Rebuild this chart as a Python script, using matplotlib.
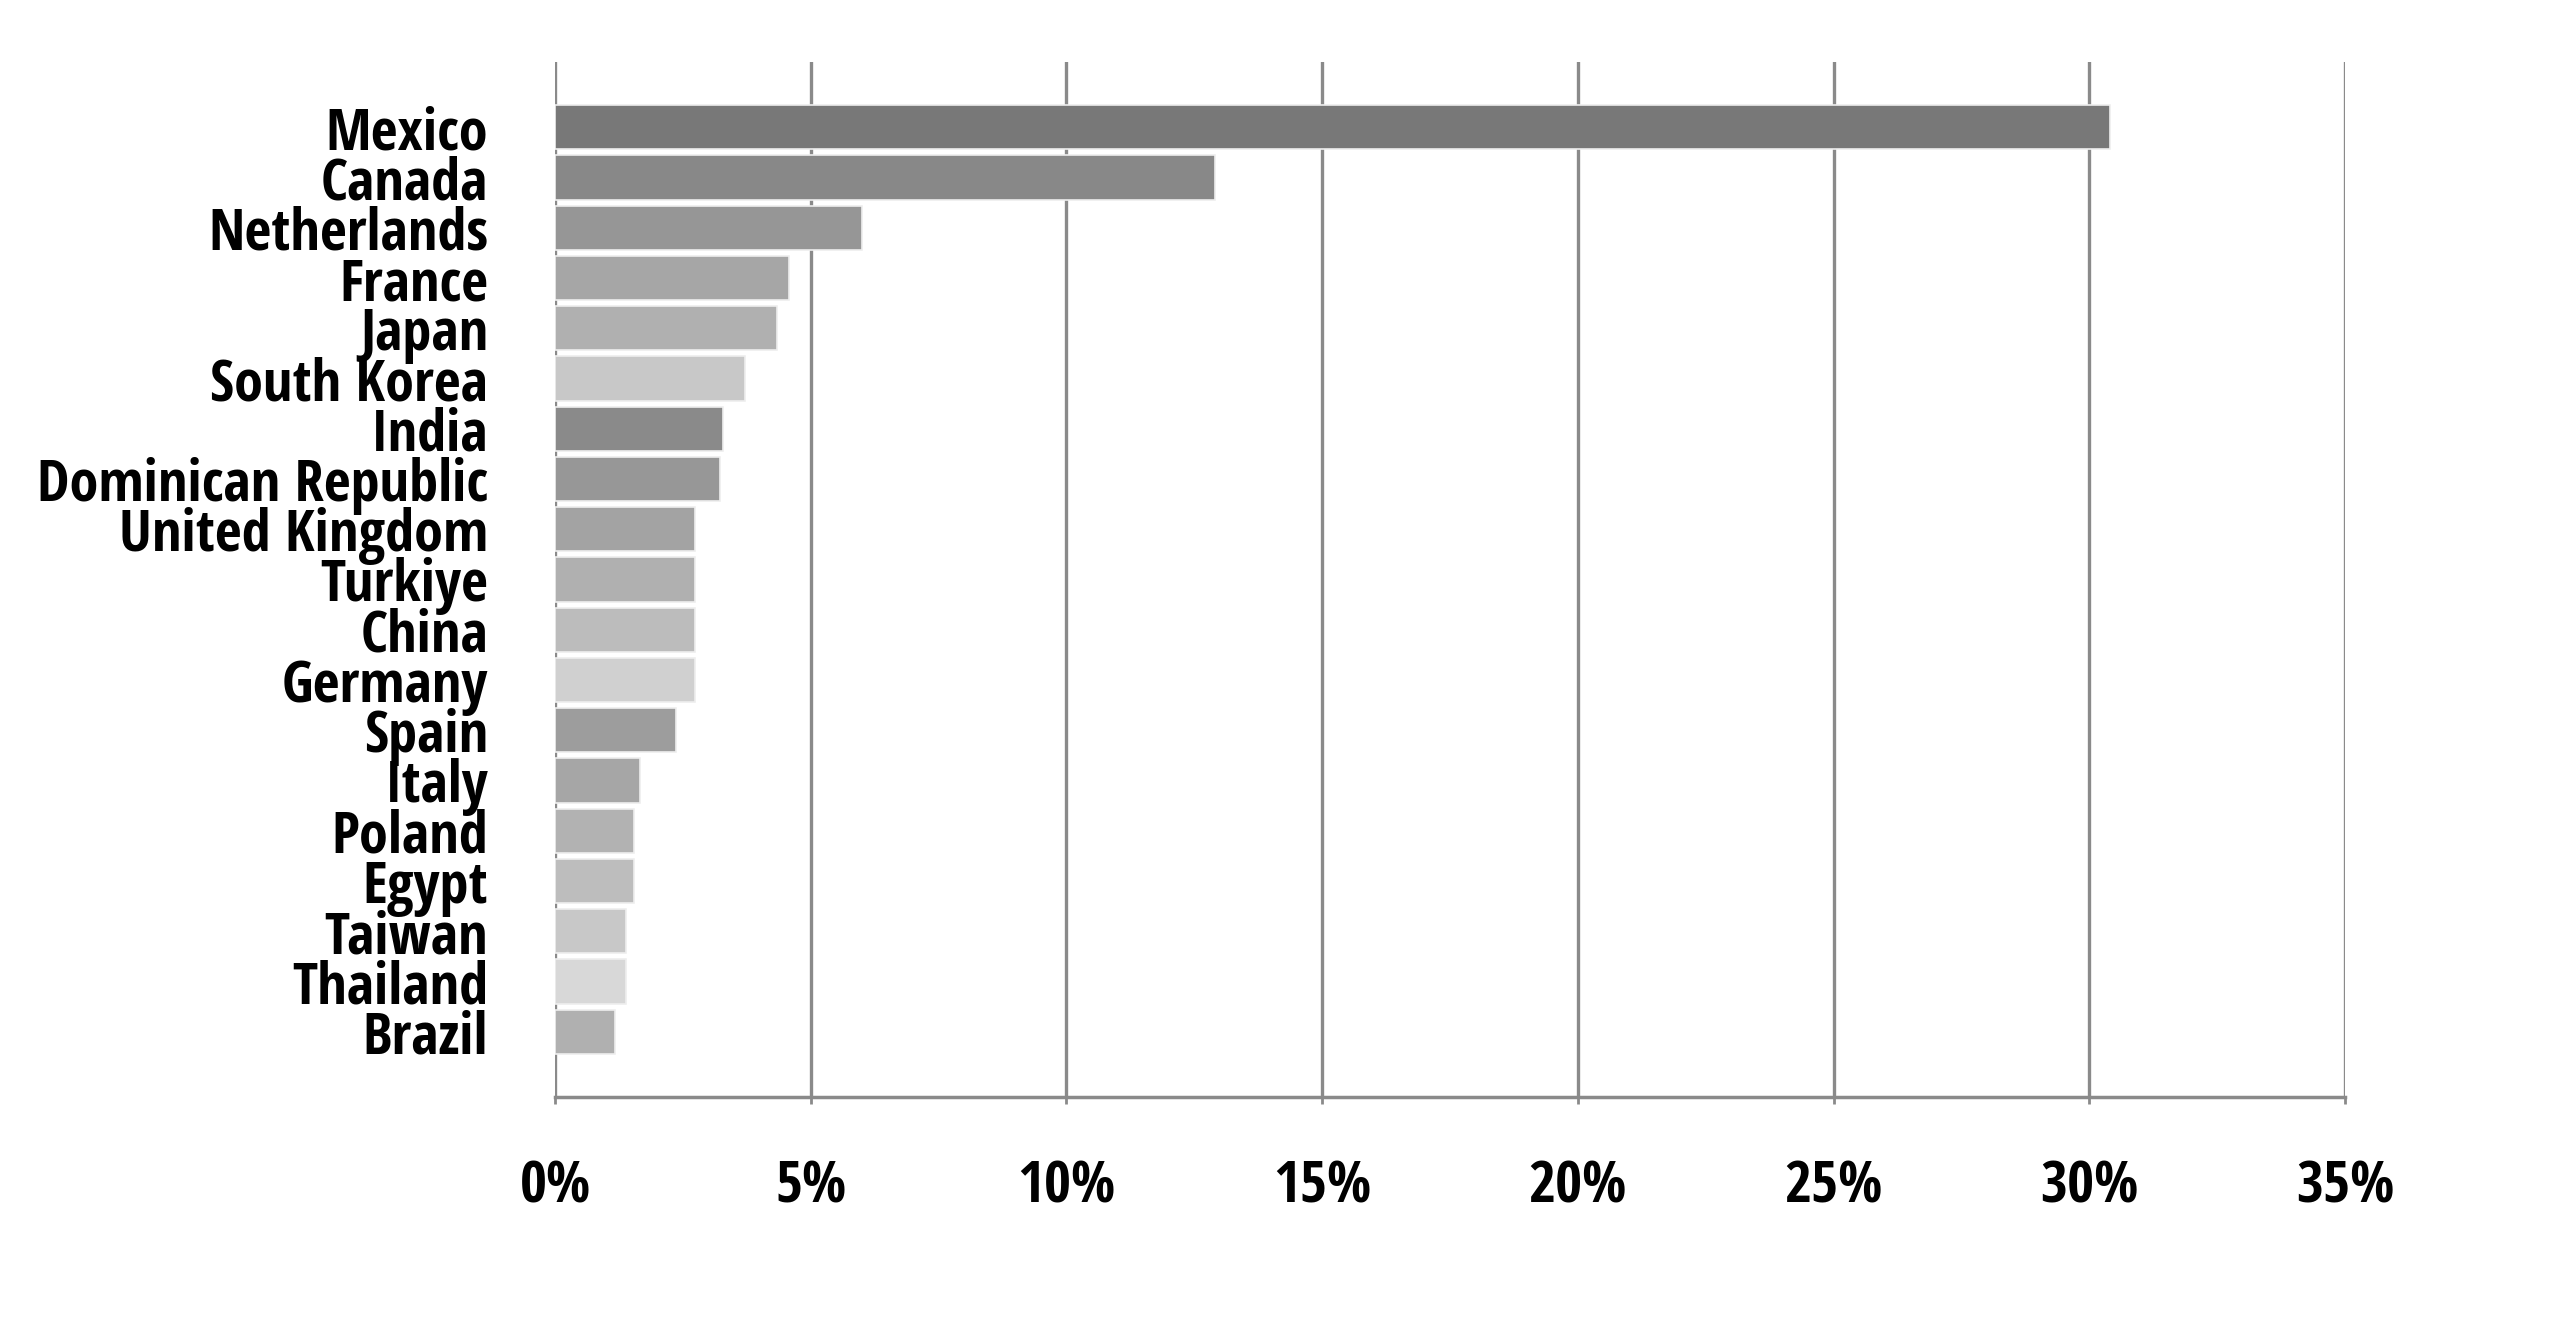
import matplotlib
matplotlib.use("Agg")
import matplotlib.pyplot as plt
from matplotlib.ticker import FuncFormatter

# data (share, %)
countries = ["Mexico", "Canada", "Netherlands", "France", "Japan", "South Korea",
             "India", "Dominican Republic", "United Kingdom", "Turkiye", "China",
             "Germany", "Spain", "Italy", "Poland", "Egypt", "Taiwan", "Thailand",
             "Brazil"]
shares = [30.4, 12.9, 6.0, 4.57, 4.35, 3.72, 3.29, 3.23, 2.73, 2.73, 2.73,
          2.73, 2.37, 1.66, 1.54, 1.54, 1.38, 1.38, 1.18]
xticks = [0, 5, 10, 15, 20, 25, 30, 35]

bar_colors = ["#787878", "#888888", "#969696", "#a6a6a6", "#b0b0b0", "#c8c8c8",
              "#8a8a8a", "#979797", "#a3a3a3", "#b0b0b0", "#bcbcbc", "#d0d0d0",
              "#9d9d9d", "#a6a6a6", "#b2b2b2", "#bdbdbd", "#c8c8c8", "#d8d8d8",
              "#b0b0b0"]

font = ["Open Sans Condensed", "DejaVu Sans"]
grid_c = "#8a8a8a"

fig = plt.figure(figsize=(25.6, 13.44), dpi=100)
ax = fig.add_axes([0.2168, 0.1838, 0.916 - 0.2168, 0.9539 - 0.1838])

ypos = list(range(len(countries)))
ax.barh(ypos, shares, height=0.88, color=bar_colors, edgecolor="#eeeeee",
        linewidth=1.2, zorder=3)

ax.set_xlim(0, 35)
ax.set_ylim(len(countries) - 1 + 1.3, -1.3)
ax.set_xticks(xticks)
ax.xaxis.set_major_formatter(FuncFormatter(lambda v, p: f"{v:.0f}%"))
ax.set_yticks(ypos)
ax.set_yticklabels(countries)

ax.grid(axis="x", color=grid_c, linewidth=2.4, zorder=0)
ax.grid(axis="y", visible=False)
for s in ["top", "right", "left"]:
    ax.spines[s].set_visible(False)
ax.spines["bottom"].set_color(grid_c)
ax.spines["bottom"].set_linewidth(2.5)
ax.spines["bottom"].set_zorder(4)

ax.tick_params(axis="x", length=5, width=2, color=grid_c, pad=39)
ax.tick_params(axis="y", length=0, pad=48)
for lab in ax.get_xticklabels() + ax.get_yticklabels():
    lab.set_family(font)
    lab.set_fontweight("bold")
    lab.set_fontsize(42)

fig.savefig("out.png", dpi=100, facecolor="white")
